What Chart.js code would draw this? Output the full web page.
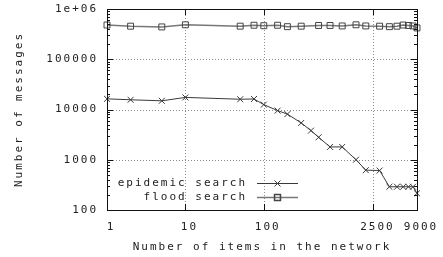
<!DOCTYPE html>
<html>
<head>
<meta charset="utf-8">
<script src="https://cdn.jsdelivr.net/npm/chart.js@4"></script>
<style>
    html, body { margin: 0; padding: 0; background: #fff; }
    #wrap { width: 443px; height: 257px; }
</style>
</head>
<body>
<div id="wrap"><canvas id="searchChart" width="443" height="257"></canvas></div>
<script>
// values
const epidemicItems = [1, 2, 5, 10, 50, 75, 100, 150, 200, 300, 400, 500, 700, 1000, 1500, 2000, 3000, 4000, 5000, 6000, 7000, 8000, 9000];
const epidemicMessages = [16300, 15600, 14900, 17400, 16000, 16200, 12500, 9500, 8100, 5400, 3800, 2800, 1800, 1800, 1000, 620, 610, 290, 290, 290, 290, 290, 215];

const floodItems = [1, 2, 5, 10, 50, 75, 100, 150, 200, 300, 500, 700, 1000, 1500, 2000, 3000, 4000, 5000, 6000, 7000, 8000, 9000];
const floodMessages = [480000, 455000, 440000, 485000, 455000, 475000, 465000, 475000, 445000, 455000, 470000, 470000, 460000, 485000, 460000, 455000, 445000, 455000, 480000, 470000, 460000, 420000];

const xTicks = [1, 10, 100, 2500, 9000];
const yTicks = [100, 1000, 10000, 100000, 1000000];

const seriesNames = ['epidemic search', 'flood search'];

function toPoints(xs, ys) {
    return xs.map((x, i) => ({ x: x, y: ys[i] }));
}

function spacing(chart) {
    // gnuplot text is wide and short, so spread the letters out a bit
    chart.ctx.letterSpacing = '2px';
}

// dotted grid, frame, inward tics and the gnuplot-like key
const gnuplotLook = {
    id: 'gnuplotLook',
    beforeLayout: spacing,
    beforeDraw: spacing,
    beforeDatasetsDraw(chart) {
        const ctx = chart.ctx;
        const area = chart.chartArea;
        const xs = chart.scales.x;
        const ys = chart.scales.y;

        ctx.save();
        ctx.strokeStyle = '#8c8c8c';
        ctx.lineWidth = 1;
        ctx.setLineDash([1, 2]);
        ctx.beginPath();
        xTicks.slice(1, -1).forEach(v => {
            const x = Math.round(xs.getPixelForValue(v)) + 0.5;
            ctx.moveTo(x, area.top);
            ctx.lineTo(x, area.bottom);
        });
        yTicks.slice(1, -1).forEach(v => {
            const y = Math.round(ys.getPixelForValue(v)) + 0.5;
            ctx.moveTo(area.left, y);
            ctx.lineTo(area.right, y);
        });
        ctx.stroke();
        ctx.restore();
    },
    afterDatasetsDraw(chart) {
        const ctx = chart.ctx;
        const area = chart.chartArea;
        const xs = chart.scales.x;
        const ys = chart.scales.y;

        ctx.save();
        ctx.strokeStyle = '#111';
        ctx.lineWidth = 1;
        ctx.setLineDash([]);
        ctx.strokeRect(Math.round(area.left) + 0.5, Math.round(area.top) + 0.5,
            Math.round(area.right - area.left), Math.round(area.bottom - area.top));

        ctx.beginPath();
        for (let d = 100; d < 1000000; d *= 10) {
            for (let k = 1; k <= 9; k++) {
                const y = Math.round(ys.getPixelForValue(k * d)) + 0.5;
                const len = k === 1 ? 6 : 3;
                ctx.moveTo(area.left, y);
                ctx.lineTo(area.left + len, y);
                ctx.moveTo(area.right, y);
                ctx.lineTo(area.right - len, y);
            }
        }
        xTicks.forEach(v => {
            const x = Math.round(xs.getPixelForValue(v)) + 0.5;
            ctx.moveTo(x, area.bottom);
            ctx.lineTo(x, area.bottom - 6);
            ctx.moveTo(x, area.top);
            ctx.lineTo(x, area.top + 6);
        });
        ctx.stroke();

        // key, text to the left of its sample
        const textRight = area.left + 140;
        const lineStart = area.left + 150;
        const lineEnd = area.left + 191;
        chart.data.datasets.forEach((ds, i) => {
            const y = Math.round(area.top + 174 + i * 14);
            ctx.font = "11px 'DejaVu Sans Mono', monospace";
            ctx.fillStyle = '#222';
            ctx.textAlign = 'right';
            ctx.textBaseline = 'middle';
            ctx.fillText(ds.label, textRight, y);

            ctx.strokeStyle = ds.borderColor;
            ctx.lineWidth = ds.borderWidth;
            ctx.beginPath();
            ctx.moveTo(lineStart, y + 0.5);
            ctx.lineTo(lineEnd, y + 0.5);
            ctx.stroke();

            ctx.strokeStyle = ds.pointBorderColor;
            ctx.fillStyle = 'rgba(0,0,0,0)';
            Chart.helpers.drawPoint(ctx, {
                pointStyle: ds.pointStyle,
                radius: ds.pointRadius,
                rotation: 0,
                borderWidth: ds.pointBorderWidth
            }, (lineStart + lineEnd) / 2, y + 0.5);
        });
        ctx.restore();
    }
};

Chart.defaults.font.family = "'DejaVu Sans Mono', monospace";
Chart.defaults.font.size = 11;
Chart.defaults.color = '#222';

const ctx = document.getElementById('searchChart').getContext('2d');
const searchChart = new Chart(ctx, {
    type: 'line',
    data: {
        datasets: [{
            label: seriesNames[0],
            data: toPoints(epidemicItems, epidemicMessages),
            borderColor: '#3a3a3a',
            borderWidth: 1,
            pointStyle: 'crossRot',
            pointRadius: 4.2,
            pointBorderColor: '#3a3a3a',
            pointBorderWidth: 1,
            fill: false,
            tension: 0,
            clip: false
        }, {
            label: seriesNames[1],
            data: toPoints(floodItems, floodMessages),
            borderColor: '#777',
            borderWidth: 1.5,
            pointStyle: 'rect',
            pointRadius: 4.2,
            pointBorderColor: '#444',
            pointBackgroundColor: 'rgba(0,0,0,0)',
            pointBorderWidth: 1,
            fill: false,
            tension: 0,
            clip: false
        }]
    },
    options: {
        responsive: false,
        animation: false,
        layout: { padding: { left: 0, right: 26, top: 9, bottom: 0 } },
        plugins: {
            legend: { display: false },
            tooltip: { enabled: false }
        },
        scales: {
            x: {
                type: 'logarithmic',
                min: 1,
                max: 9000,
                afterBuildTicks: scale => { scale.ticks = xTicks.map(v => ({ value: v })); },
                afterFit: scale => {
                    scale.height = 47;
                    scale.paddingLeft = 0;
                    scale.paddingRight = 0;
                },
                ticks: {
                    autoSkip: false,
                    maxRotation: 0,
                    padding: 11,
                    labelOffset: 4,
                    callback: v => String(v)
                },
                grid: { display: false, drawTicks: false },
                border: { display: false },
                title: {
                    display: true,
                    text: 'Number of items in the network',
                    padding: { top: 0, bottom: 3 }
                }
            },
            y: {
                type: 'logarithmic',
                min: 100,
                max: 1000000,
                afterBuildTicks: scale => { scale.ticks = yTicks.map(v => ({ value: v })); },
                afterFit: scale => {
                    scale.width = 107;
                    scale.paddingTop = 0;
                    scale.paddingBottom = 0;
                },
                ticks: {
                    autoSkip: false,
                    padding: 9,
                    callback: v => v >= 1000000 ? '1e+06' : String(v)
                },
                grid: { display: false, drawTicks: false },
                border: { display: false },
                title: {
                    display: true,
                    text: 'Number of messages',
                    padding: { top: 13, bottom: 0 }
                }
            }
        }
    },
    plugins: [gnuplotLook]
});
</script>
</body>
</html>
